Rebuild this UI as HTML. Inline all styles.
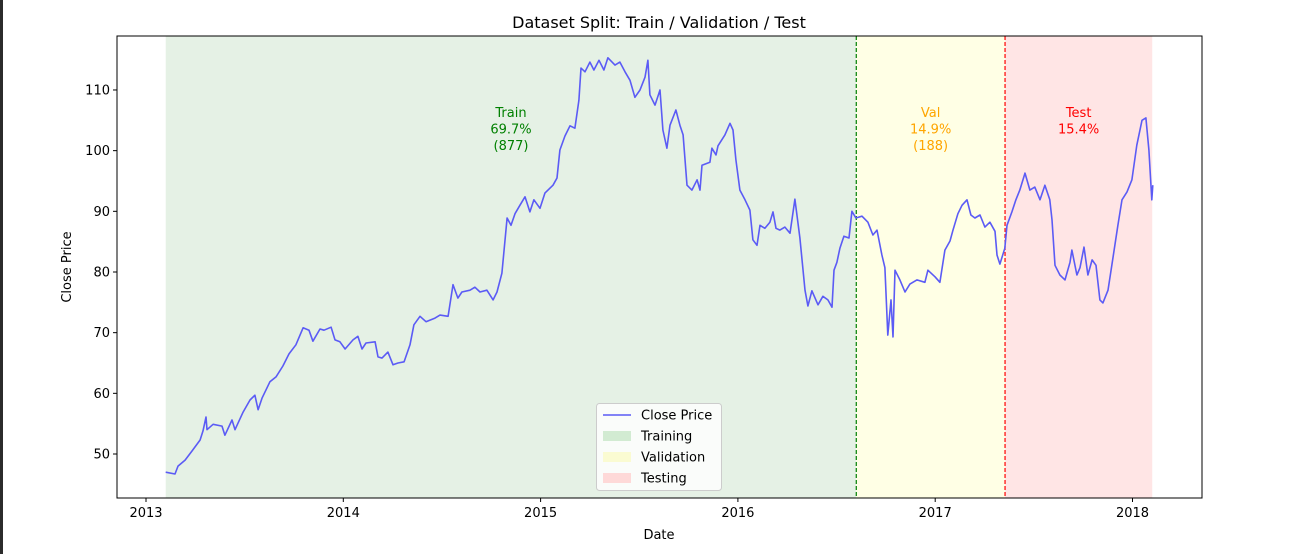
<!DOCTYPE html>
<html><head><meta charset="utf-8">
<style>
html,body{margin:0;padding:0;background:#fff;}
body{width:1291px;height:554px;overflow:hidden;position:relative;font-family:"DejaVu Sans","Liberation Sans",sans-serif;}
#edge{position:absolute;left:0;top:0;width:3px;height:554px;background:#2b2b2b;}
svg text{font-family:"DejaVu Sans","Liberation Sans",sans-serif;}
</style></head>
<body>
<div id="edge"></div>
<svg id="chart" width="1291" height="554">
<text x="659" y="28" text-anchor="middle" font-size="16" fill="#000">Dataset Split: Train / Validation / Test</text>
<g id="spans"></g>
<g id="lineg"></g>
<g id="axes"></g>
<g id="annots"></g>
<g id="legend"></g>
</svg>
<script>
const dates = [2013.10,2013.147,2013.162,2013.198,2013.233,2013.274,2013.289,2013.304,2013.309,2013.340,2013.385,2013.400,2013.436,2013.451,2013.492,2013.527,2013.552,2013.568,2013.588,2013.628,2013.659,2013.694,2013.725,2013.760,2013.796,2013.826,2013.846,2013.882,2013.902,2013.938,2013.958,2013.983,2014.009,2014.049,2014.074,2014.095,2014.115,2014.161,2014.176,2014.196,2014.226,2014.252,2014.277,2014.308,2014.338,2014.358,2014.389,2014.419,2014.465,2014.490,2014.531,2014.556,2014.581,2014.601,2014.642,2014.667,2014.693,2014.728,2014.759,2014.779,2014.804,2014.830,2014.850,2014.870,2014.895,2014.921,2014.946,2014.966,2014.997,2015.022,2015.063,2015.083,2015.098,2015.123,2015.149,2015.174,2015.194,2015.205,2015.225,2015.250,2015.270,2015.296,2015.321,2015.341,2015.377,2015.402,2015.428,2015.453,2015.478,2015.504,2015.529,2015.544,2015.554,2015.580,2015.605,2015.620,2015.640,2015.656,2015.686,2015.706,2015.722,2015.742,2015.767,2015.793,2015.808,2015.818,2015.858,2015.868,2015.889,2015.899,2015.934,2015.960,2015.975,2015.990,2016.010,2016.036,2016.061,2016.076,2016.097,2016.112,2016.137,2016.162,2016.178,2016.193,2016.213,2016.238,2016.264,2016.289,2016.314,2016.340,2016.355,2016.375,2016.406,2016.431,2016.456,2016.477,2016.487,2016.502,2016.517,2016.537,2016.563,2016.578,2016.598,2016.629,2016.659,2016.684,2016.705,2016.730,2016.745,2016.760,2016.776,2016.786,2016.796,2016.821,2016.847,2016.872,2016.907,2016.948,2016.963,2016.999,2017.024,2017.049,2017.075,2017.090,2017.115,2017.136,2017.161,2017.181,2017.201,2017.227,2017.252,2017.277,2017.303,2017.313,2017.328,2017.353,2017.364,2017.389,2017.409,2017.429,2017.455,2017.480,2017.505,2017.531,2017.556,2017.581,2017.592,2017.607,2017.632,2017.658,2017.683,2017.693,2017.718,2017.734,2017.754,2017.774,2017.795,2017.815,2017.835,2017.850,2017.876,2017.896,2017.926,2017.947,2017.972,2017.997,2018.022,2018.048,2018.068,2018.083,2018.098,2018.103];
const prices = [47.0,46.7,48.0,49.0,50.5,52.3,53.8,56.1,54.0,54.9,54.6,53.1,55.6,54.0,56.9,58.9,59.7,57.3,59.2,61.9,62.7,64.5,66.5,68.0,70.8,70.4,68.6,70.6,70.4,70.9,68.8,68.5,67.3,68.8,69.4,67.3,68.3,68.5,66.0,65.8,66.8,64.7,65.0,65.2,68.0,71.3,72.7,71.8,72.4,72.9,72.7,77.9,75.7,76.7,77.0,77.5,76.7,77.0,75.4,76.7,79.8,88.9,87.7,89.6,91.0,92.4,89.9,91.9,90.5,93.0,94.3,95.5,100.1,102.4,104.1,103.7,108.3,113.6,113.0,114.6,113.3,114.9,113.3,115.3,114.1,114.6,113.0,111.6,108.8,110.0,112.1,114.9,109.2,107.5,110.0,103.4,100.4,104.2,106.7,104.2,102.6,94.3,93.5,95.2,93.5,97.6,98.1,100.4,99.3,100.8,102.6,104.5,103.4,98.5,93.5,91.9,90.2,85.3,84.4,87.7,87.2,88.2,89.9,87.2,86.9,87.4,86.4,92.0,85.6,77.0,74.4,76.9,74.6,76.0,75.4,74.2,80.3,81.6,83.9,85.9,85.6,90.0,88.9,89.2,88.2,86.1,86.9,82.8,80.7,69.6,75.4,69.3,80.3,78.7,76.7,78.0,78.7,78.3,80.3,79.2,78.3,83.6,85.1,86.9,89.6,91.0,91.9,89.4,88.9,89.4,87.4,88.2,86.7,82.8,81.3,83.9,87.7,89.9,91.9,93.5,96.3,93.5,94.0,91.9,94.3,91.9,88.6,81.1,79.5,78.7,81.6,83.6,79.5,80.7,84.1,79.5,82.0,81.1,75.4,74.9,77.0,81.3,87.7,91.9,93.2,95.2,100.9,105.0,105.4,100.1,91.9,94.3];
const splitStarts = [2013.10, 2016.60, 2017.354];
const splitEnds = [2016.60, 2017.354, 2018.10];
const splitNames = ["Train","Val","Test"];
const splitPct = ["69.7%","14.9%","15.4%"];
const splitCounts = ["(877)","(188)",""];
const xTicks = [2013,2014,2015,2016,2017,2018];
const yTicks = [50,60,70,80,90,100,110];

const L=117,R=1202,T=36,B=498;
const xs = v => 146 + (v-2013)*197.3;
const ys = v => 454 - (v-50)*6.067;
const NS="http://www.w3.org/2000/svg";
function mk(tag, attrs, parent){const e=document.createElementNS(NS,tag);for(const k in attrs)e.setAttribute(k,attrs[k]);parent.appendChild(e);return e;}

const fills=["#e5f1e5","#ffffe5","#ffe5e5"];
const lineCols=["#008000","#ff0000"];
const textCols=["#008000","#ffa500","#ff0000"];
const spans=document.getElementById('spans');
const ann=document.getElementById('annots');
mk('rect',{x:L,y:T,width:R-L,height:B-T,fill:'#fff'},spans);
for(let i=0;i<3;i++){
  const r=mk('rect',{x:xs(splitStarts[i]),y:T,width:xs(splitEnds[i])-xs(splitStarts[i]),height:B-T,fill:fills[i]},spans);
  
  
  const cx=(xs(splitStarts[i])+xs(splitEnds[i]))/2;
  const lines=[splitNames[i],splitPct[i],splitCounts[i]];
  lines.forEach((s,j)=>{ if(!s) return;
    const t=mk('text',{x:cx,y:117+j*16.5,'text-anchor':'middle','font-size':13,fill:textCols[i]},ann);
    t.textContent=s;
    
    
  });
}
for(let i=1;i<3;i++){
  const l=mk('line',{x1:xs(splitStarts[i]),x2:xs(splitStarts[i]),y1:T,y2:B,stroke:lineCols[i-1],'stroke-width':1.2,'stroke-dasharray':'4,2'},spans);
  
  
}
const lg=document.getElementById('lineg');
const pts=dates.map((d,i)=>xs(d).toFixed(1)+','+ys(prices[i]).toFixed(1)).join(' ');
const pl=mk('polyline',{points:pts,fill:'none',stroke:'#5b5bf5','stroke-width':1.6,'stroke-linejoin':'round'},lg);



const ax=document.getElementById('axes');
const fr=mk('rect',{x:L,y:T,width:R-L,height:B-T,fill:'none',stroke:'#000','stroke-width':1},ax);


xTicks.forEach(v=>{
  mk('line',{x1:xs(v),x2:xs(v),y1:B,y2:B+4,stroke:'#000'},ax);
  const t=mk('text',{x:xs(v),y:B+19,'text-anchor':'middle','font-size':13,fill:'#000'},ax);
  t.textContent=v;
  
  
});
yTicks.forEach(v=>{
  mk('line',{x1:L-4,x2:L,y1:ys(v),y2:ys(v),stroke:'#000'},ax);
  const t=mk('text',{x:L-7,y:ys(v)+4.5,'text-anchor':'end','font-size':13,fill:'#000'},ax);
  t.textContent=v;
  
  
});
const xt=mk('text',{x:659,y:539,'text-anchor':'middle','font-size':13,fill:'#000'},ax);
xt.textContent='Date';


const yt=mk('text',{x:71,y:267,'text-anchor':'middle','font-size':13,fill:'#000',transform:'rotate(-90 71 267)'},ax);
yt.textContent='Close Price';



const lgd=document.getElementById('legend');
const box=mk('rect',{x:596.5,y:403.5,width:125,height:87,rx:3,fill:'#fff','fill-opacity':0.8,stroke:'#ccc'},lgd);


const labels=["Close Price","Training","Validation","Testing"];
const swc=["#c8e6c8","#fafac8","#ffd0d0"];
labels.forEach((s,i)=>{
  const y=415+i*21;
  if(i===0) mk('line',{x1:603,x2:631,y1:y,y2:y,stroke:'#5b5bf5','stroke-width':1.6},lgd);
  else mk('rect',{x:603,y:y-5,width:28,height:10,fill:swc[i-1],'fill-opacity':0.8},lgd);
  const t=mk('text',{x:641,y:y+4.5,'font-size':13,fill:'#000'},lgd);
  t.textContent=s;
  
  
});
</script>
</body></html>
